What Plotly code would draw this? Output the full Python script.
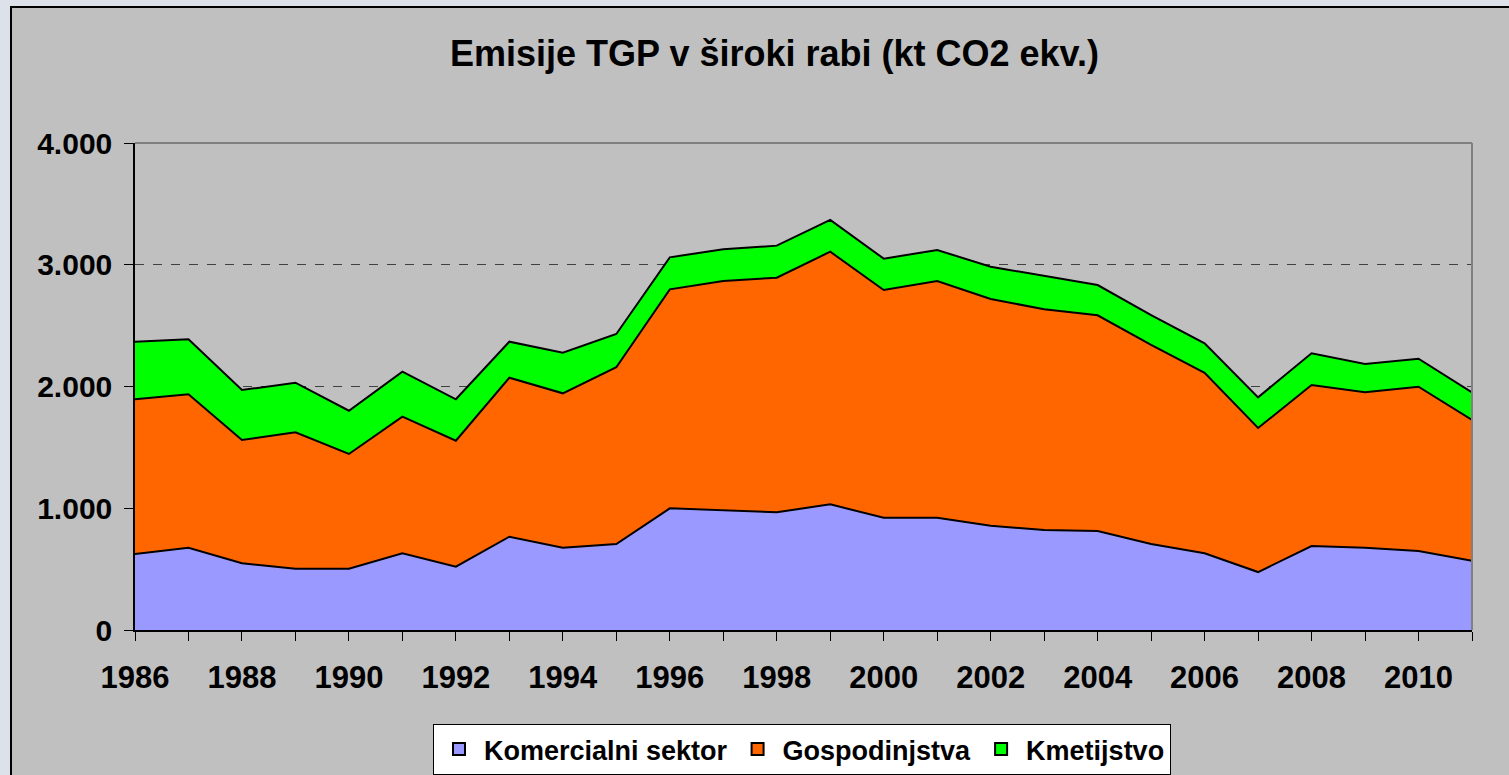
import plotly.graph_objects as go

years = list(range(1986, 2012))
komercialni = [624, 676, 548, 504, 504, 630, 520, 766, 676, 706, 999, 986, 967, 1032,
               922, 922, 857, 821, 813, 706, 630, 476, 690, 676, 649, 569]
gospodinjstva = [1271, 1260, 1013, 1120, 942, 1122, 1035, 1306, 1268, 1452, 1799, 1880, 1927, 2075,
                 1871, 1944, 1862, 1813, 1772, 1635, 1483, 1183, 1322, 1276, 1349, 1156]
kmetijstvo = [473, 452, 410, 407, 355, 370, 340, 296, 334, 273, 263, 261, 263, 261,
              257, 255, 265, 274, 248, 246, 242, 252, 261, 233, 230, 227]
series_names = ["Komercialni sektor", "Gospodinjstva", "Kmetijstvo"]
series_colors = ["#9999FF", "#FF6600", "#00FF00"]
title_text = "Emisije TGP v široki rabi (kt CO2 ekv.)"
x_tick_labels = [str(y) if y % 2 == 0 else "" for y in years]
y_ticks = [0, 1000, 2000, 3000, 4000]

FONT = "Liberation Sans"

fig = go.Figure()
for name, vals, col in zip(series_names, [komercialni, gospodinjstva, kmetijstvo], series_colors):
    fig.add_trace(go.Scatter(
        x=years, y=vals, name=name, mode="lines",
        stackgroup="one", fillcolor=col,
        line=dict(color="black", width=2),
        showlegend=False, legendgroup=name,
    ))
# legend-only entries with square swatches
for name, col in zip(series_names, series_colors):
    fig.add_trace(go.Scatter(
        x=[None], y=[None], name=name, mode="markers", legendgroup=name,
        marker=dict(symbol="square", size=16, color=col, line=dict(color="black", width=1.5)),
    ))

W, H = 1509, 775
L, R, T, B = 135, 37, 143, 145
pw = W - L - R
ph = H - T - B

def px_x(p):
    return (p - L) / pw

def px_y(p):
    return (H - B - p) / ph

fig.update_layout(
    width=W, height=H,
    margin=dict(l=L, r=R, t=T, b=B, pad=0),
    paper_bgcolor="#dde1ea",
    plot_bgcolor="white",
    separators=",.",
    font=dict(family=FONT, weight="bold", color="black"),
    showlegend=True,
    legend=dict(
        orientation="h", xref="container", x=802 / W, xanchor="center",
        yref="container", y=1 - 724 / H, yanchor="top",
        bgcolor="white", bordercolor="black", borderwidth=1,
        font=dict(family=FONT, size=27, weight="bold", color="black"),
        itemsizing="constant", traceorder="normal", itemwidth=40,
        tracegroupgap=0,
    ),
    xaxis=dict(
        range=[1986, 2011], tickvals=years, ticktext=x_tick_labels,
        ticks="outside", ticklen=9, tickcolor="black", tickwidth=1,
        showline=True, linecolor="black", linewidth=1.5,
        showgrid=False, zeroline=False, ticklabelstandoff=10, automargin=False,
        tickfont=dict(family=FONT, size=31, weight="bold", color="black"),
    ),
    yaxis=dict(
        range=[0, 4000], tickvals=y_ticks, tickformat=",.0f",
        ticks="outside", ticklen=9, tickcolor="black", tickwidth=1,
        showline=True, linecolor="black", linewidth=1.5,
        showgrid=True, gridcolor="#404040", gridwidth=1, griddash="dash",
        zeroline=False, ticklabelstandoff=6, automargin=False,
        tickfont=dict(family=FONT, size=30, weight="bold", color="black"),
    ),
    shapes=[
        dict(type="rect", xref="paper", yref="paper",
             x0=px_x(11), x1=px_x(1530), y0=px_y(7), y1=px_y(800),
             fillcolor="#c0c0c0", line=dict(color="black", width=2), layer="below"),
        dict(type="line", xref="paper", yref="paper", x0=0, x1=1, y0=1, y1=1,
             line=dict(color="#808080", width=2), layer="above"),
        dict(type="line", xref="paper", yref="paper", x0=1, x1=1, y0=0, y1=1,
             line=dict(color="#808080", width=2), layer="above"),
    ],
    annotations=[
        dict(text=title_text, xref="paper", yref="paper", x=px_x(774), y=px_y(53),
             xanchor="center", yanchor="middle", showarrow=False,
             font=dict(family=FONT, size=36, weight="bold", color="black")),
    ],
)

fig.write_html(
    "out.html",
    config={"displayModeBar": False},
    post_script="document.body.style.margin='0';document.body.style.background='#dde1ea';",
)
